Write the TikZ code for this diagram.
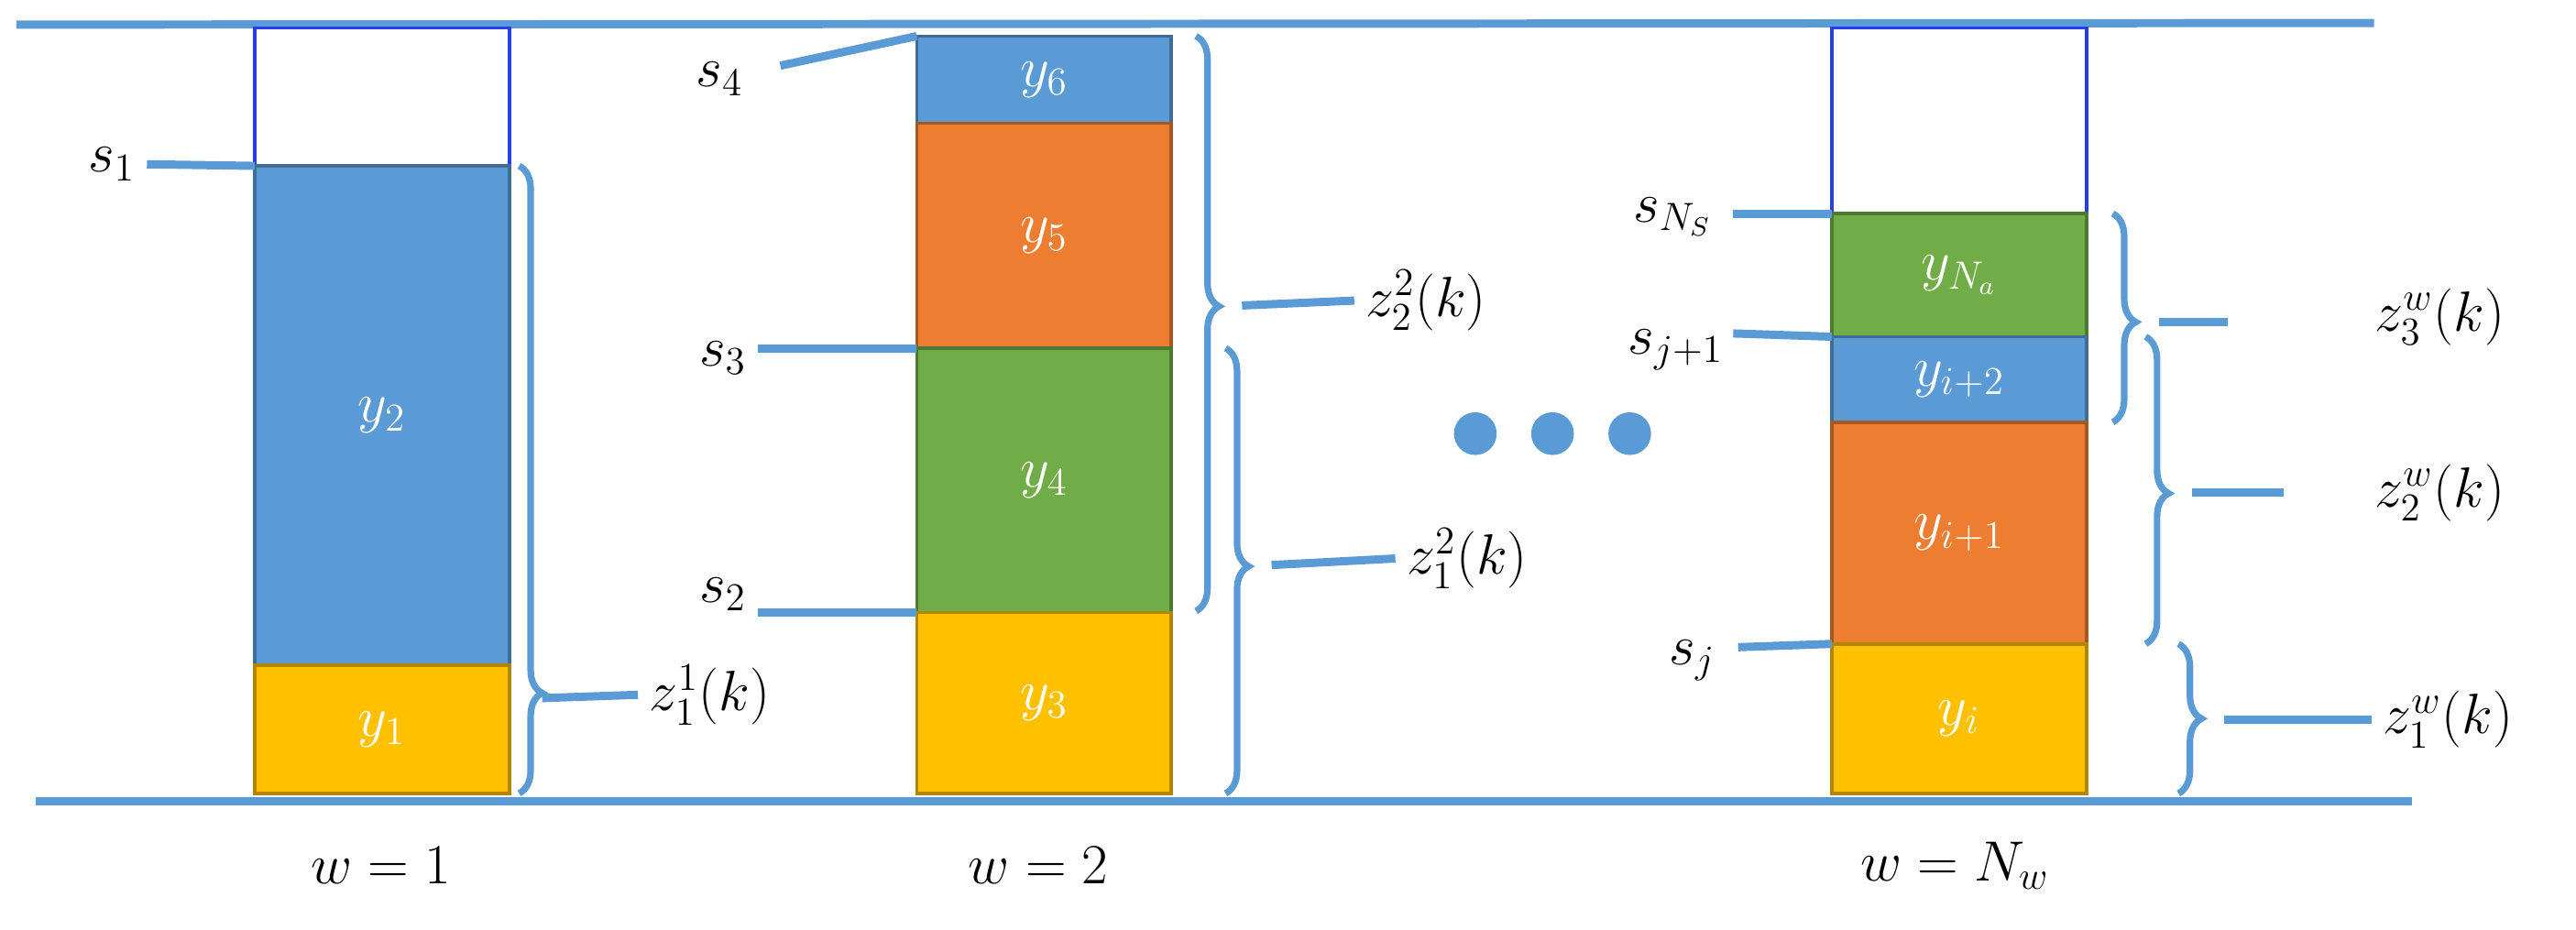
\documentclass[tikz,border=0pt]{standalone}
\usetikzlibrary{decorations.pathreplacing}
\definecolor{lblue}{HTML}{5B9BD5}
\definecolor{lorange}{HTML}{ED7D31}
\definecolor{lgreen}{HTML}{70AD47}
\definecolor{lyellow}{HTML}{FFC000}
\tikzset{
    blk/.style = {draw=#1!70!black, fill=#1, line width=1pt, anchor=north west, minimum width=77.5pt,
                  inner sep=0pt, outer sep=0pt, text=white},
    emp/.style = {draw=blue!60!lblue, line width=1pt, anchor=north west, minimum width=77.5pt,
                  inner sep=0pt, outer sep=0pt},
    lin/.style = {lblue, line width=2.5pt},
    brc/.style = {lblue, line width=2pt, decorate, decoration={brace, amplitude=7pt, aspect=#1}},
    dot/.style = {circle, fill=lblue, inner sep=0pt, minimum size=13pt}
}
\begin{document}
\begin{tikzpicture}[x=0.5pt, y=-0.5pt]
    \useasboundingbox (0,0) rectangle (1568,566);
    \tikzset{every node/.append style={font=\fontsize{17}{20}\selectfont}}

    % ground and top lines
    \draw [lin] (10,15) -- (1445,14);
    \draw [lin] (22,488) -- (1468,488);

    % column w=1
    \node [emp, minimum height=42pt] (e1) at (155,17) {};
    \node [blk=lblue, minimum height=152pt] (y2) at (155,101) {$y_2$};
    \node [blk=lyellow, minimum height=39pt] (y1) at (155,405) {$y_1$};
    \node (s1) at (68,100) {$s_1$};
    \draw [lin] (s1.east) -- (y2.north west);
    \node (w1) at (232,527) {$w=1$};

    % column w=2
    \node [blk=lblue, minimum height=26.5pt] (y6) at (558,22) {$y_6$};
    \node [blk=lorange, minimum height=68.5pt] (y5) at (558,75) {$y_5$};
    \node [blk=lgreen, minimum height=80.5pt] (y4) at (558,212) {$y_4$};
    \node [blk=lyellow, minimum height=55pt] (y3) at (558,373) {$y_3$};
    \node (s4) at (438,48) {$s_4$};
    \node (s3) at (440,218) {$s_3$};
    \node (s2) at (440,362) {$s_2$};
    \coordinate (s4e) at (475,40);
    \draw [lin] (s4e) -- (y6.north west);
    \draw [lin] (s3.east |- y4.north) -- (y4.north west);
    \draw [lin] (s2.east |- y3.north) -- (y3.north west);
    \node (w2) at (632,527) {$w=2$};

    \node [dot] (d1) at (898,264) {};
    \node [dot] (d2) at (945,264) {};
    \node [dot] (d3) at (992,264) {};

    % column w=N_w
    \node [emp, minimum height=56.5pt] (e3) at (1115,17) {};
    \node [blk=lgreen, minimum height=37.5pt] (yna) at (1115,130) {$y_{N_a}$};
    \node [blk=lblue, minimum height=26pt] (yi2) at (1115,205) {$y_{i+2}$};
    \node [blk=lorange, minimum height=67.5pt] (yi1) at (1115,257) {$y_{i+1}$};
    \node [blk=lyellow, minimum height=45.5pt] (yi) at (1115,392) {$y_i$};
    \node (sns) at (1018,132) {$s_{N_S}$};
    \node (sj1) at (1020,213) {$s_{j+1}$};
    \node (sj) at (1030,402) {$s_j$};
    \draw [lin] (1055,130) -- (yna.north west);
    \draw [lin] (1055,203) -- (yi2.north west);
    \draw [lin] (1058,394) -- (yi.north west);
    \node (wn) at (1190,527) {$w=N_w$};

    % braces
    \draw [brc=0.84] (316,101) -- (316,483);
    \coordinate (t11) at (330,425);
    \node (z11) at (432,423) {$z_1^1(k)$};
    \draw [lin] (t11) -- (z11.west);

    \draw [brc=0.47] (728,22) -- (728,372);
    \node (z22) at (868,183) {$z_2^2(k)$};
    \draw [lin] (756,186) -- (z22.west);

    \draw [brc=0.49] (746,212) -- (746,483);
    \node (z12) at (893,340) {$z_1^2(k)$};
    \draw [lin] (774,344) -- (z12.west);

    \draw [brc=0.52] (1286,130) -- (1286,257);
    \coordinate (t3) at (1356,196);
    \draw [lin] (1314,196) -- (t3);
    \node (z3w) at (1485,193) {$z_3^w(k)$};

    \draw [brc=0.51] (1306,205) -- (1306,392);
    \coordinate (t2) at (1390,300);
    \draw [lin] (1334,300) -- (t2);
    \node (z2w) at (1485,300) {$z_2^w(k)$};

    \draw [brc=0.5] (1326,392) -- (1326,483);
    \node (z1w) at (1490,438) {$z_1^w(k)$};
    \draw [lin] (1354,438) -- (z1w.west);
\end{tikzpicture}
\end{document}
